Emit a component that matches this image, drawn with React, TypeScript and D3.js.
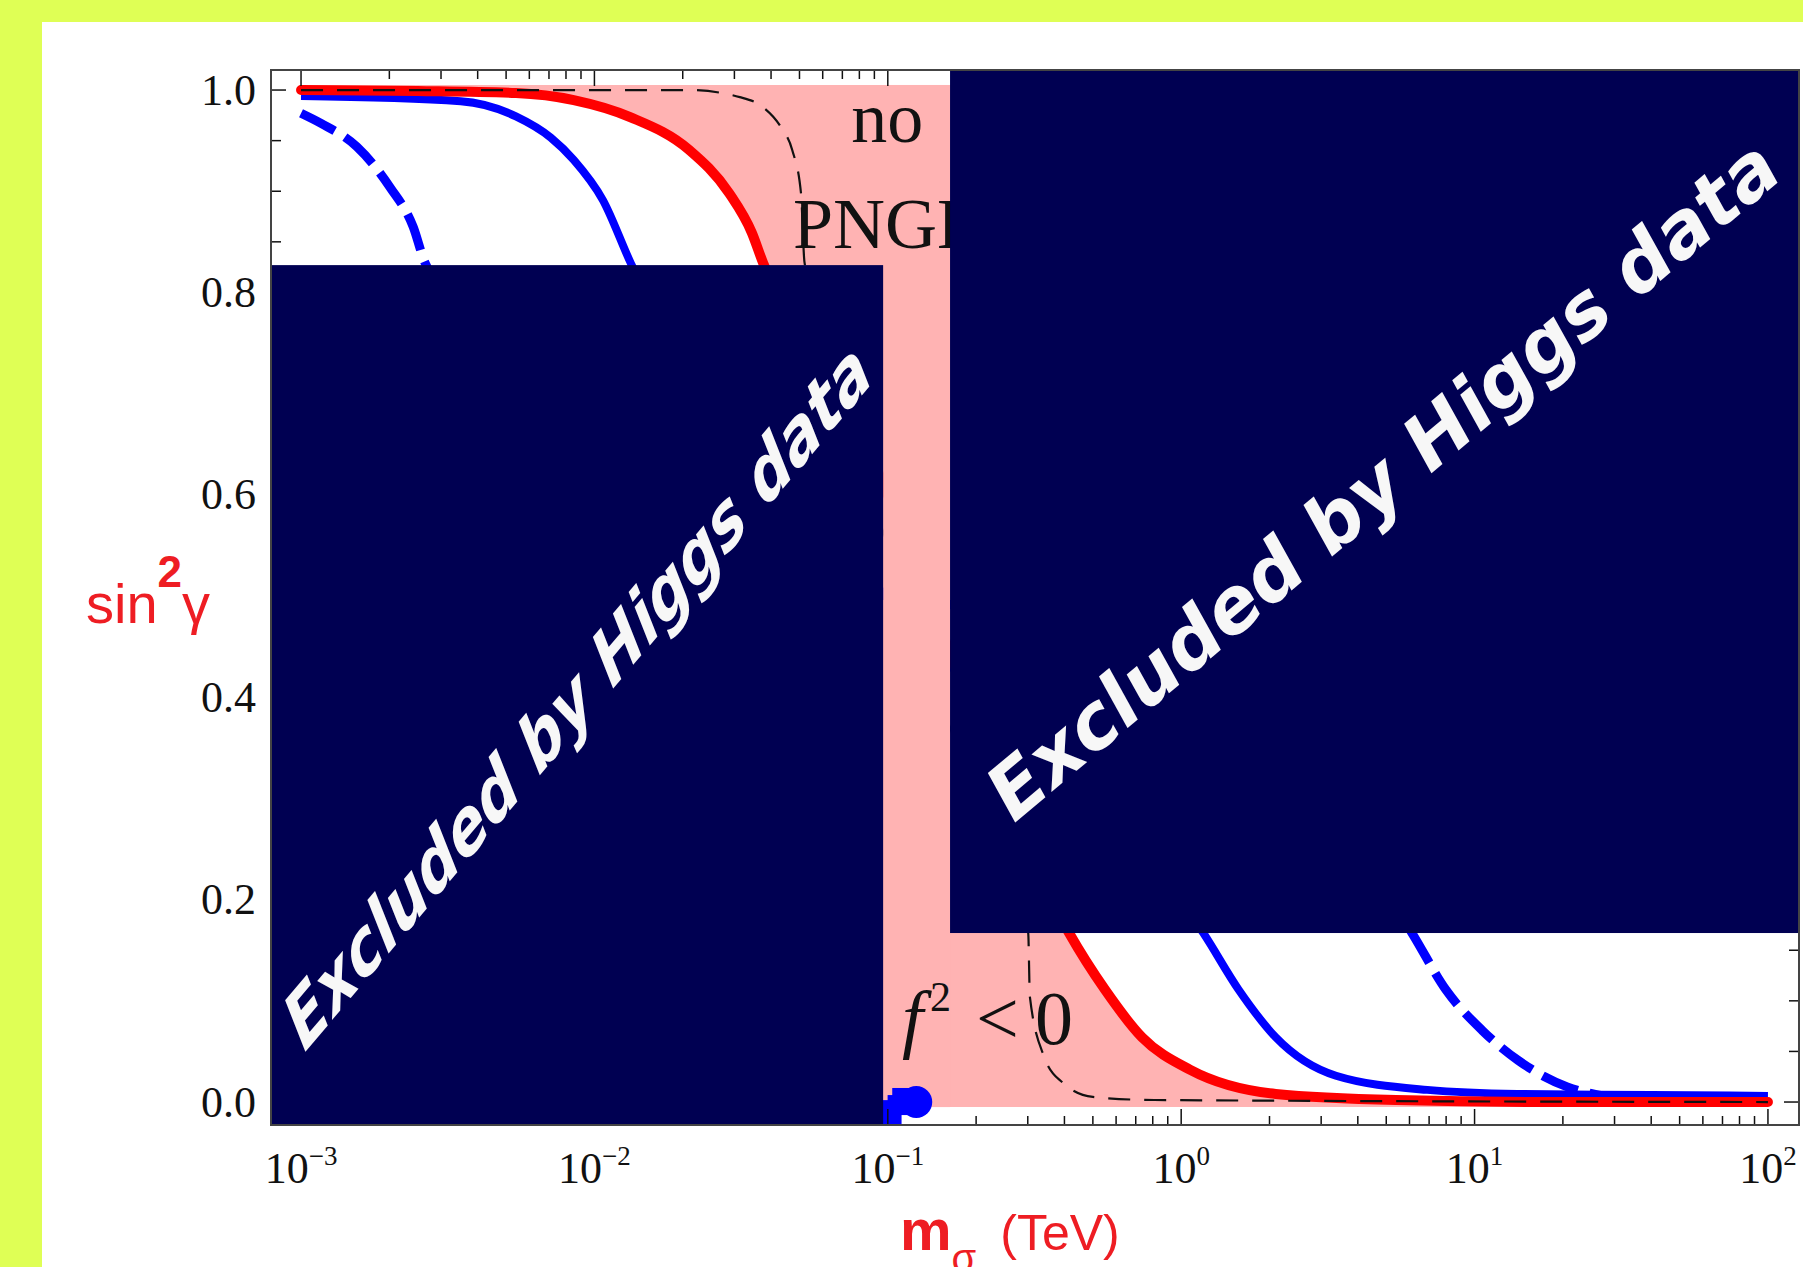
import React from "react";
import * as d3 from "d3";

// m_sigma in TeV, sin^2(gamma)
type Pt = [number, number];

const redSolid: Pt[] = [
  [0.001, 1.0], [0.0025, 0.999], [0.0054, 0.997], [0.0085, 0.99], [0.0133, 0.973],
  [0.021, 0.941], [0.0288, 0.898], [0.0344, 0.859], [0.0376, 0.829], [0.06, 0.74],
  [0.1, 0.6], [0.16, 0.45], [0.25, 0.3], [0.415, 0.167], [0.55, 0.111],
  [0.735, 0.064], [1.07, 0.032], [2.1, 0.008], [5.4, 0.002], [20, 0.0], [100, 0.0],
];

const blueSolid: Pt[] = [
  [0.001, 0.994], [0.0035, 0.989], [0.0054, 0.974], [0.0071, 0.953], [0.0085, 0.931],
  [0.0107, 0.891], [0.0133, 0.829], [0.05, 0.6], [0.3, 0.35], [1.19, 0.167],
  [1.57, 0.111], [2.1, 0.064], [3.37, 0.026], [6.9, 0.012], [14, 0.008],
  [40, 0.007], [100, 0.006],
];

const blueDashed: Pt[] = [
  [0.001, 0.977], [0.00117, 0.967], [0.00155, 0.944], [0.00201, 0.904], [0.00241, 0.865],
  [0.00265, 0.829], [0.02, 0.55], [0.5, 0.45], [6.12, 0.167], [7.98, 0.111],
  [10.6, 0.071], [14.1, 0.041], [20.7, 0.015], [27.5, 0.006],
];

const blackDashed: Pt[] = [
  [0.001, 1.0], [0.021, 1.0], [0.0313, 0.993], [0.0376, 0.983], [0.0433, 0.963],
  [0.0472, 0.941], [0.0506, 0.898], [0.052, 0.83], [0.1, 0.55], [0.2, 0.3],
  [0.301, 0.167], [0.305, 0.104], [0.342, 0.044], [0.395, 0.019], [0.5, 0.005],
  [0.81, 0.002], [100, 0.0],
];

const higgsPoint: Pt = [0.125, 0.0];
const blueSpecks: Pt[] = [[0.098, -0.008], [0.103, -0.012], [0.108, -0.003], [0.112, 0.004]];

const yTickValues = [0, 0.2, 0.4, 0.6, 0.8, 1.0];
const yTickLabels = ["0.0", "0.2", "0.4", "0.6", "0.8", "1.0"];
const xDecades = [-3, -2, -1, 0, 1, 2];
const xDecadeLabels = ["\u22123", "\u22122", "\u22121", "0", "1", "2"];

const pinkTopUntil = 0.25;
const pinkBottomFrom = 0.06;

// the two covering boxes of the slide, in data units
const leftCover = { m0: 0.00079, m1: 0.0964, s0: -0.0227, s1: 0.827 };
const rightCover = { m0: 0.163, m1: 127.6, s0: 0.167, s1: 1.0198 };

const W = 1803;
const H = 1267;

export default function App() {
  const x = d3.scaleLog().domain([0.00079, 127.6]).range([271, 1799]);
  const y = d3.scaleLinear().domain([-0.0227, 1.0198]).range([1125, 70]);
  const [x0, x1] = x.range();
  const [yb, yt] = y.range();

  const line = d3
    .line<Pt>()
    .x((d) => x(d[0]))
    .y((d) => y(d[1]))
    .curve(d3.curveMonotoneX);

  const pinkTop = d3
    .area<Pt>()
    .x((d) => x(d[0]))
    .y0((d) => y(d[1]))
    .y1(y(1.005))
    .curve(d3.curveMonotoneX)(redSolid.filter((d) => d[0] <= pinkTopUntil));
  const pinkBottom = d3
    .area<Pt>()
    .x((d) => x(d[0]))
    .y0(y(-0.005))
    .y1((d) => y(d[1]))
    .curve(d3.curveMonotoneX)(redSolid.filter((d) => d[0] >= pinkBottomFrom));

  const pink = "#ffb3b3";
  const navy = "#000052";

  // ticks
  const minorX: number[] = [];
  xDecades.slice(0, -1).forEach((e) => {
    for (let k = 2; k <= 9; k++) minorX.push(k * Math.pow(10, e));
  });
  const minorY = d3.range(0, 21).map((i) => i * 0.05);

  const serif = "'Liberation Serif', 'Times New Roman', serif";
  const sans = "'Liberation Sans', Arial, sans-serif";
  const boxFont = "'DejaVu Sans', Verdana, sans-serif";

  const lc = { x: (x(leftCover.m0) + x(leftCover.m1)) / 2, y: (y(leftCover.s0) + y(leftCover.s1)) / 2 };
  const rc = { x: (x(rightCover.m0) + x(rightCover.m1)) / 2, y: (y(rightCover.s0) + y(rightCover.s1)) / 2 };

  return (
    <div style={{ position: "absolute", left: 0, top: 0 }}>
      <svg width={W} height={H} style={{ display: "block" }}>
        <rect x={0} y={0} width={W} height={H} fill="#dfff55" />
        <rect x={42} y={22} width={W - 42} height={H - 22} fill="#ffffff" />

        {/* excluded bands */}
        <path d={pinkTop ?? ""} fill={pink} />
        <path d={pinkBottom ?? ""} fill={pink} />

        {/* curves */}
        <path d={line(blueSolid) ?? ""} fill="none" stroke="#0000ff" strokeWidth={8} />
        <path d={line(blueDashed) ?? ""} fill="none" stroke="#0000ff" strokeWidth={9} strokeDasharray="38,12" />
        <path d={line(redSolid) ?? ""} fill="none" stroke="#ff0000" strokeWidth={10} strokeLinecap="round" />
        <path d={line(blackDashed) ?? ""} fill="none" stroke="#111" strokeWidth={2.2} strokeDasharray="22,14" />

        {/* pink gap between the two covers */}
        <rect
          x={x(leftCover.m1)}
          y={y(1.005)}
          width={x(rightCover.m0) - x(leftCover.m1)}
          height={y(-0.005) - y(1.005)}
          fill={pink}
        />

        <text x={x(0.075)} y={y(0.949)} fontFamily={serif} fontSize={72} fill="#111">no</text>
        <text x={x(0.0475)} y={y(0.844)} fontFamily={serif} fontSize={72} fill="#111">PNGB</text>
        <text x={x(0.1117)} y={y(0.057)} fontFamily={serif} fontSize={76} fill="#111">
          <tspan fontStyle="italic">f</tspan>
          <tspan fontSize={42} dy={-33} dx={7}>2</tspan>
          <tspan dy={33} dx={25}>&lt;</tspan>
          <tspan dx={16}>0</tspan>
        </text>

        {blueSpecks.map((d, i) => (
          <rect key={i} x={x(d[0]) - 10} y={y(d[1]) - 10} width={20} height={20} fill="#0000ff" />
        ))}
        <circle cx={x(higgsPoint[0])} cy={y(higgsPoint[1])} r={16} fill="#0000ff" />

        {/* ticks */}
        <g stroke="#111" strokeWidth={1.5}>
          {xDecades.map((e) => (
            <g key={"M" + e}>
              <line x1={x(Math.pow(10, e))} x2={x(Math.pow(10, e))} y1={yb} y2={yb - 16} />
              <line x1={x(Math.pow(10, e))} x2={x(Math.pow(10, e))} y1={yt} y2={yt + 16} />
            </g>
          ))}
          {minorX.map((m, i) => (
            <g key={"m" + i}>
              <line x1={x(m)} x2={x(m)} y1={yb} y2={yb - 9} />
              <line x1={x(m)} x2={x(m)} y1={yt} y2={yt + 9} />
            </g>
          ))}
          {minorY.map((v, i) => {
            const len = i % 4 === 0 ? 15 : 10;
            return (
              <g key={"y" + i}>
                <line x1={x0} x2={x0 + len} y1={y(v)} y2={y(v)} />
                <line x1={x1} x2={x1 - len} y1={y(v)} y2={y(v)} />
              </g>
            );
          })}
        </g>

        {/* covers */}
        <rect
          x={x(leftCover.m0)}
          y={y(leftCover.s1)}
          width={x(leftCover.m1) - x(leftCover.m0)}
          height={y(leftCover.s0) - y(leftCover.s1)}
          fill={navy}
        />
        <rect
          x={x(rightCover.m0)}
          y={y(rightCover.s1)}
          width={x(rightCover.m1) - x(rightCover.m0)}
          height={y(rightCover.s0) - y(rightCover.s1)}
          fill={navy}
        />
        <text
          transform={`translate(${lc.x},${lc.y}) scale(0.74,1.04) rotate(-40)`}
          textAnchor="middle"
          dominantBaseline="central"
          fontFamily={boxFont}
          fontWeight="bold"
          fontStyle="oblique"
          fontSize={76}
          fill="#f7f7f7"
        >
          Excluded by Higgs data
        </text>
        <text
          transform={`translate(${rc.x + 8},${rc.y - 22}) rotate(-40)`}
          textAnchor="middle"
          dominantBaseline="central"
          fontFamily={boxFont}
          fontWeight="bold"
          fontStyle="oblique"
          fontSize={76}
          fill="#f7f7f7"
        >
          Excluded by Higgs data
        </text>

        {/* frame */}
        <rect x={x0} y={yt} width={x1 - x0} height={yb - yt} fill="none" stroke="#444" strokeWidth={2} />

        {/* tick labels */}
        {yTickValues.map((v, i) => (
          <text
            key={"yl" + i}
            x={256}
            y={y(v)}
            textAnchor="end"
            dominantBaseline="central"
            fontFamily={serif}
            fontSize={44}
            fill="#111"
          >
            {yTickLabels[i]}
          </text>
        ))}
        {xDecades.map((e, i) => (
          <text
            key={"xl" + e}
            x={x(Math.pow(10, e))}
            y={1183}
            textAnchor="middle"
            fontFamily={serif}
            fontSize={44}
            fill="#111"
          >
            10
            <tspan fontSize={27} dy={-18}>{xDecadeLabels[i]}</tspan>
          </text>
        ))}

        {/* axis titles */}
        <text x={86} y={623} fontFamily={sans} fontSize={56} fill="#ee1d23">
          sin
          <tspan fontSize={44} fontWeight="bold" dy={-36}>2</tspan>
          <tspan dy={36}>γ</tspan>
        </text>
        <text x={900} y={1250} fontFamily={sans} fill="#ee1d23">
          <tspan fontSize={58} fontWeight="bold">m</tspan>
          <tspan fontSize={40} dy={22}>σ</tspan>
          <tspan fontSize={50} dy={-22} dx={24}>(TeV)</tspan>
        </text>
      </svg>
    </div>
  );
}
